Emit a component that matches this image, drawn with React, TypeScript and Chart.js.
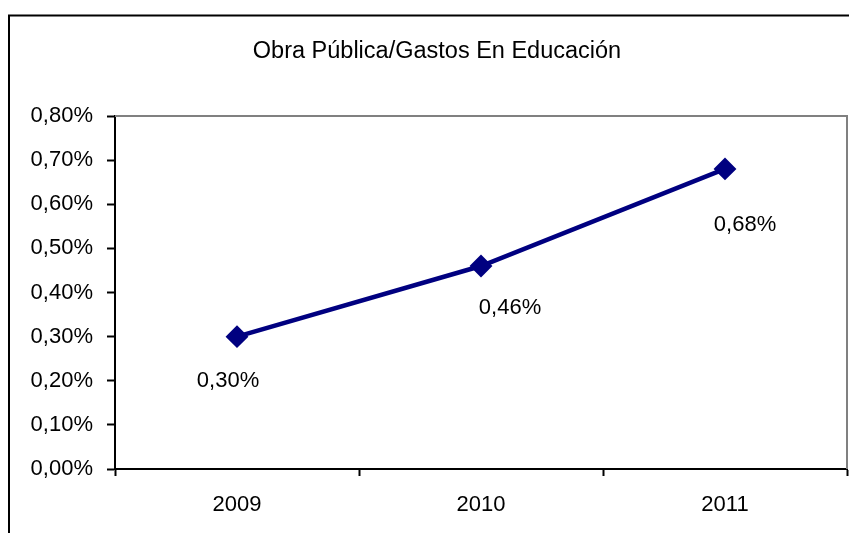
import React, { useEffect, useRef } from "react";
import { Chart, registerables } from "chart.js";

Chart.register(...registerables);

const TITLE = "Obra Pública/Gastos En Educación";
const CATEGORIES = ["2009", "2010", "2011"];
const VALUES = [0.003, 0.0046, 0.0068];
const VALUE_LABELS = ["0,30%", "0,46%", "0,68%"];
const Y_MIN = 0;
const Y_MAX = 0.008;
const Y_STEP = 0.001;

// label offsets relative to each point (style)
const LABEL_DX = [-9, 29, 20];
const LABEL_DY = [44, 42, 56];

const FONT = "'Liberation Sans', Arial, sans-serif";

const fmtPct = (v: number) => (v * 100).toFixed(2).replace(".", ",") + "%";

const decorPlugin = {
  id: "decor",
  beforeDraw(chart: any) {
    const ctx = chart.ctx;
    ctx.save();
    ctx.fillStyle = "#ffffff";
    ctx.fillRect(0, 0, chart.width, chart.height);
    ctx.restore();
  },
  beforeDatasetsDraw(chart: any) {
    const ctx = chart.ctx;
    const a = chart.chartArea;
    ctx.save();
    // outer frame
    ctx.strokeStyle = "#000000";
    ctx.lineWidth = 2;
    ctx.strokeRect(9, 15.5, chart.width + 20, chart.height + 20);
    // plot area gray border (top & right)
    ctx.strokeStyle = "#808080";
    ctx.lineWidth = 2;
    ctx.beginPath();
    ctx.moveTo(a.left, a.top);
    ctx.lineTo(a.right, a.top);
    ctx.lineTo(a.right, a.bottom);
    ctx.stroke();
    // title
    ctx.fillStyle = "#000000";
    ctx.font = `23.5px ${FONT}`;
    ctx.textAlign = "center";
    ctx.textBaseline = "middle";
    ctx.fillText(TITLE, 437, 52);
    ctx.restore();
  },
  afterDatasetsDraw(chart: any) {
    const ctx = chart.ctx;
    const meta = chart.getDatasetMeta(0);
    ctx.save();
    ctx.fillStyle = "#000000";
    ctx.font = `22px ${FONT}`;
    ctx.textAlign = "center";
    ctx.textBaseline = "middle";
    meta.data.forEach((pt: any, i: number) => {
      ctx.fillText(VALUE_LABELS[i], pt.x + LABEL_DX[i], pt.y + LABEL_DY[i]);
    });
    ctx.restore();
  },
};

export default function App() {
  const ref = useRef<HTMLCanvasElement>(null);
  useEffect(() => {
    if (!ref.current) return;
    const chart = new Chart(ref.current, {
      type: "line",
      data: {
        labels: CATEGORIES,
        datasets: [
          {
            data: VALUES,
            borderColor: "#000080",
            backgroundColor: "#000080",
            borderWidth: 4.5,
            pointStyle: "rectRot",
            pointRadius: 10,
            pointBorderWidth: 2,
            pointBackgroundColor: "#000080",
            pointBorderColor: "#000080",
            tension: 0,
          },
        ],
      },
      options: {
        responsive: false,
        animation: false,
        devicePixelRatio: 1,
        layout: { autoPadding: false, padding: { left: 0, right: 2, top: 116, bottom: 0 } },
        plugins: {
          legend: { display: false },
          title: { display: false },
          tooltip: { enabled: false },
        },
        scales: {
          x: {
            offset: true,
            grid: {
              offset: true,
              drawOnChartArea: false,
              drawTicks: true,
              tickLength: 7,
              tickColor: "#000000",
              tickWidth: 2,
            },
            border: { color: "#000000", width: 2 },
            ticks: {
              color: "#000000",
              font: { family: FONT, size: 22 },
              padding: 16,
              maxRotation: 0,
            },
            afterFit(scale: any) {
              scale.height = 64;
              scale.paddingLeft = 0;
              scale.paddingRight = 0;
            },
          },
          y: {
            min: Y_MIN,
            max: Y_MAX,
            grid: {
              drawOnChartArea: false,
              drawTicks: true,
              tickLength: 8,
              tickColor: "#000000",
              tickWidth: 2,
            },
            border: { color: "#000000", width: 2 },
            ticks: {
              stepSize: Y_STEP,
              color: "#000000",
              font: { family: FONT, size: 22 },
              padding: 14,
              callback: (v: any) => fmtPct(Number(v)),
            },
            afterFit(scale: any) {
              scale.width = 115;
              scale.paddingTop = 0;
              scale.paddingBottom = 0;
            },
          },
        },
      },
      plugins: [decorPlugin],
    });
    return () => chart.destroy();
  }, []);
  return (
    <div style={{ position: "absolute", left: 0, top: 0, width: 849, height: 533 }}>
      <canvas ref={ref} width={849} height={533} style={{ display: "block" }} />
    </div>
  );
}
